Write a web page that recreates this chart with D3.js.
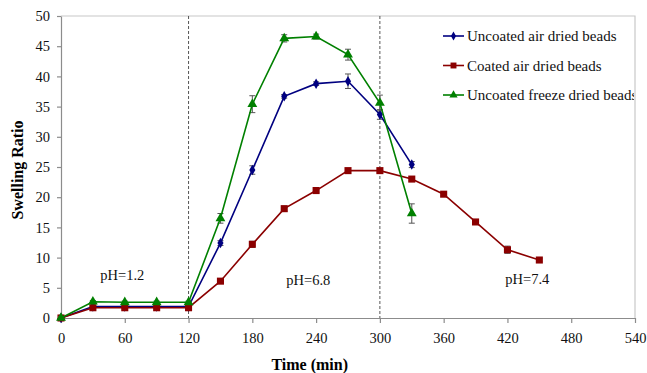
<!DOCTYPE html>
<html>
<head>
<meta charset="utf-8">
<script src="https://d3js.org/d3.v7.min.js"></script>
<style>
body { margin: 0; background: #fff; }
svg, svg text { font-family: "Liberation Serif", "Times New Roman", Times, "DejaVu Serif", serif; }
</style>
</head>
<body>
<div id="chart"></div>
<script>
// data
var times = [0, 30, 60, 90, 120, 150, 180, 210, 240, 270, 300, 330, 360, 390, 420, 450];

var uncoatedAir    = [0, 1.9, 1.9, 1.9, 1.9, 12.4, 24.5, 36.7, 38.8, 39.2, 33.7, 25.4];
var uncoatedAirErr = [0.2, 0.2, 0.2, 0.2, 0.2, 0.4, 0.7, 0.3, 0.3, 1.2, 0.8, 0.5];

var coatedAir      = [0, 1.7, 1.7, 1.7, 1.7, 6.1, 12.2, 18.1, 21.1, 24.4, 24.4, 23.0, 20.5, 15.9, 11.3, 9.6];
var coatedAirErr   = [0.2, 0.2, 0.2, 0.2, 0.2, 0.3, 0.5, 0.4, 0.3, 0.3, 0.3, 0.3, 0.3, 0.3, 0.6, 0.3];

var uncoatedFreeze    = [0, 2.7, 2.6, 2.6, 2.6, 16.5, 35.4, 46.3, 46.6, 43.6, 35.6, 17.3];
var uncoatedFreezeErr = [0.2, 0.2, 0.2, 0.2, 0.2, 0.8, 1.4, 0.6, 0.4, 0.9, 1.3, 1.6];

var seriesNames = ["Uncoated air dried beads", "Coated air dried beads", "Uncoated freeze dried beads"];
var seriesColors = ["#000080", "#8b0000", "#008000"];

var xTicks = [0, 60, 120, 180, 240, 300, 360, 420, 480, 540];
var yTicks = [0, 5, 10, 15, 20, 25, 30, 35, 40, 45, 50];

var phBreaks = [120, 300];
var phLabels = [
  {t: 37, v: 6.3, text: "pH=1.2"},
  {t: 212, v: 5.5, text: "pH=6.8"},
  {t: 418, v: 5.6, text: "pH=7.4"}
];

var serif = "'Liberation Serif', 'Times New Roman', Times, 'DejaVu Serif', serif";

var W = 647, H = 373;
var margin = {top: 16, right: 12, bottom: 55, left: 61};
var width = W - margin.left - margin.right,
    height = H - margin.top - margin.bottom;

var svg = d3.select("#chart").append("svg")
  .attr("width", W)
  .attr("height", H)
  .style("font-family", serif);

var g = svg.append("g")
  .attr("transform", "translate(" + margin.left + "," + margin.top + ")");

var x = d3.scaleLinear().domain([0, 540]).range([0, width]);
var y = d3.scaleLinear().domain([0, 50]).range([height, 0]);

// plot frame (top + right, light gray)
g.append("path")
  .attr("d", "M0,0H" + width + "V" + height)
  .attr("fill", "none")
  .attr("stroke", "#c8c8c8")
  .attr("stroke-width", 1.2);

// axes
var xAxis = g.append("g")
  .attr("transform", "translate(0," + height + ")")
  .call(d3.axisBottom(x).tickValues(xTicks).tickSize(5).tickPadding(10).tickSizeOuter(0));
var yAxis = g.append("g")
  .call(d3.axisLeft(y).tickValues(yTicks).tickSize(4).tickPadding(7).tickSizeOuter(0));

[xAxis, yAxis].forEach(function(a) {
  a.attr("font-family", null);
  a.selectAll("path, line").attr("stroke", "#8c8c8c").attr("stroke-width", 1.2);
  a.selectAll("text")
    .style("font-family", serif)
    .attr("font-size", 14.5)
    .attr("fill", "#111");
});

// pH boundary lines
g.selectAll(".ph-line")
  .data(phBreaks)
  .join("line")
    .attr("x1", d => x(d)).attr("x2", d => x(d))
    .attr("y1", 0).attr("y2", height)
    .attr("stroke", "#555")
    .attr("stroke-width", 1)
    .attr("stroke-dasharray", "3,2");

g.selectAll(".ph-label")
  .data(phLabels)
  .join("text")
    .attr("x", d => x(d.t))
    .attr("y", d => y(d.v))
    .attr("font-size", 14.5)
    .attr("fill", "#111")
    .text(d => d.text);

// axis titles
svg.append("text")
  .attr("x", margin.left + x(234))
  .attr("y", 370)
  .attr("text-anchor", "middle")
  .attr("font-size", 16)
  .attr("font-weight", "bold")
  .text("Time (min)");

svg.append("text")
  .attr("transform", "translate(23," + (margin.top + height / 2 + 3) + ") rotate(-90)")
  .attr("text-anchor", "middle")
  .attr("font-size", 16)
  .attr("font-weight", "bold")
  .text("Swelling Ratio");

// series
var series = [
  {name: seriesNames[0], color: seriesColors[0], vals: uncoatedAir, err: uncoatedAirErr, shape: d3.symbolDiamond, size: 32},
  {name: seriesNames[1], color: seriesColors[1], vals: coatedAir, err: coatedAirErr, shape: d3.symbolSquare, size: 50},
  {name: seriesNames[2], color: seriesColors[2], vals: uncoatedFreeze, err: uncoatedFreezeErr, shape: d3.symbolTriangle, size: 42}
];

var line = d3.line()
  .x(d => x(d.t))
  .y(d => y(d.v));

series.forEach(function(s) {
  var pts = s.vals.map(function(v, i) { return {t: times[i], v: v, e: s.err[i]}; });
  var sg = g.append("g");

  // error bars
  var eb = sg.selectAll(".err").data(pts).join("g").attr("stroke", "#555").attr("stroke-width", 1);
  eb.append("line")
    .attr("x1", d => x(d.t)).attr("x2", d => x(d.t))
    .attr("y1", d => y(d.v + d.e)).attr("y2", d => y(d.v - d.e));
  eb.append("line")
    .attr("x1", d => x(d.t) - 3).attr("x2", d => x(d.t) + 3)
    .attr("y1", d => y(d.v + d.e)).attr("y2", d => y(d.v + d.e));
  eb.append("line")
    .attr("x1", d => x(d.t) - 3).attr("x2", d => x(d.t) + 3)
    .attr("y1", d => y(d.v - d.e)).attr("y2", d => y(d.v - d.e));

  sg.append("path")
    .datum(pts)
    .attr("d", line)
    .attr("fill", "none")
    .attr("stroke", s.color)
    .attr("stroke-width", 1.6);

  sg.selectAll(".pt").data(pts).join("path")
    .attr("transform", d => "translate(" + x(d.t) + "," + y(d.v) + ")")
    .attr("d", d3.symbol().type(s.shape).size(s.size))
    .attr("fill", s.color);
});

// legend, clipped at the plot border like the original
svg.append("clipPath").attr("id", "legclip")
  .append("rect").attr("x", 0).attr("y", 0).attr("width", margin.left + width - 1).attr("height", H);

var leg = svg.append("g")
  .attr("clip-path", "url(#legclip)")
  .append("g")
  .attr("transform", "translate(443,36)");

var li = leg.selectAll("g").data(series).join("g")
  .attr("transform", (d, i) => "translate(0," + (i * 29.5) + ")");
li.append("line")
  .attr("x1", 0).attr("x2", 21)
  .attr("stroke", d => d.color)
  .attr("stroke-width", 1.6);
li.append("path")
  .attr("transform", "translate(10.5,0)")
  .attr("d", d => d3.symbol().type(d.shape).size(d.size * 0.7)())
  .attr("fill", d => d.color);
li.append("text")
  .attr("x", 24)
  .attr("dy", "0.35em")
  .attr("font-size", 15)
  .attr("fill", "#111")
  .text(d => d.name);
</script>
</body>
</html>
